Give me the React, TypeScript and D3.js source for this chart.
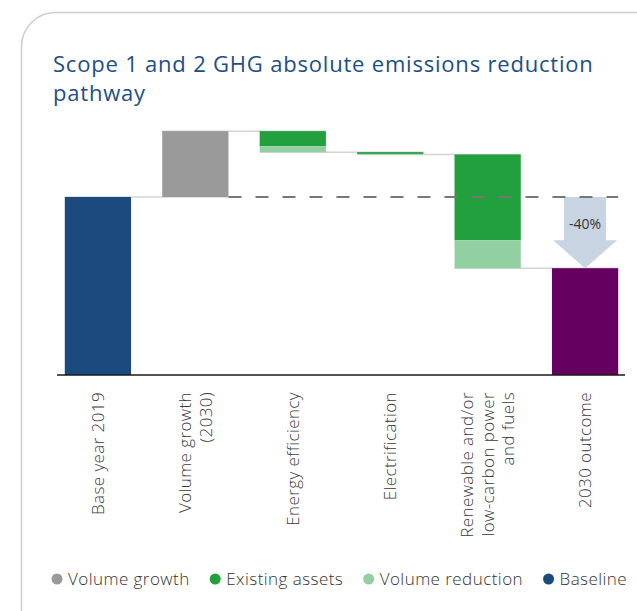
import React, { useEffect, useRef } from 'react';
import * as d3 from 'd3';

// chart data (base year = 100)
const categories = ['Base year 2019', 'Volume growth (2030)', 'Energy efficiency', 'Electrification', 'Renewable and/or low-carbon power and fuels', '2030 outcome'];
const labelLines = [['Base year 2019'], ['Volume growth', '(2030)'], ['Energy efficiency'], ['Electrification'], ['Renewable and/or', 'low-carbon power', 'and fuels'], ['2030 outcome']];
const baselineValues = [100, 0, 0, 0, 0, 0];
const volumeGrowth = [0, 37, 0, 0, 0, 0];
const existingAssets = [0, 0, -8.5, -1.0, -48.2, 0];
const volumeReduction = [0, 0, -3.3, -0.3, -15.7, 0];
const outcomeValues = [0, 0, 0, 0, 0, 60];
const reductionLabel = '-40%';
const legendItems = ['Volume growth', 'Existing assets', 'Volume reduction', 'Baseline'];

const colors = {
  'Volume growth': '#999a99',
  'Existing assets': '#21a03d',
  'Volume reduction': '#93d0a1',
  'Baseline': '#1b4a7e',
  outcome: '#650060',
};

const W = 637;
const H = 611;
const FONT = '"Open Sans", "DejaVu Sans", sans-serif';

export default function App() {
  const ref = useRef(null);

  useEffect(() => {
    const svg = d3.select(ref.current);
    svg.selectAll('*').remove();

    // card outline
    svg.append('rect')
      .attr('x', 21.5).attr('y', 12.5)
      .attr('width', 800).attr('height', 800)
      .attr('rx', 34)
      .attr('fill', 'white')
      .attr('stroke', '#cdcdcd')
      .attr('stroke-width', 1.5);

    // title
    const title = svg.append('text')
      .attr('font-family', FONT)
      .attr('font-size', 22)
      .attr('letter-spacing', 0.8)
      .attr('fill', '#1d4e89');
    title.append('tspan').attr('x', 53).attr('y', 72).text('Scope 1 and 2 GHG absolute emissions reduction');
    title.append('tspan').attr('x', 53).attr('y', 101).text('pathway');

    const x = d3.scaleBand().domain(categories).range([57, 626]).paddingInner(0.32).paddingOuter(0.08);
    const y = d3.scaleLinear().domain([0, 100]).range([375, 197]);
    const bw = x.bandwidth();

    // waterfall segments
    const segs = [];
    const totals = [];
    let run = 0;
    categories.forEach((c, i) => {
      if (baselineValues[i]) {
        segs.push({ c, y0: 0, y1: baselineValues[i], color: colors['Baseline'] });
        run = baselineValues[i];
      }
      if (volumeGrowth[i]) {
        segs.push({ c, y0: run, y1: run + volumeGrowth[i], color: colors['Volume growth'] });
        run += volumeGrowth[i];
      }
      if (existingAssets[i]) {
        segs.push({ c, y0: run + existingAssets[i], y1: run, color: colors['Existing assets'] });
        run += existingAssets[i];
      }
      if (volumeReduction[i]) {
        segs.push({ c, y0: run + volumeReduction[i], y1: run, color: colors['Volume reduction'] });
        run += volumeReduction[i];
      }
      if (outcomeValues[i]) {
        segs.push({ c, y0: 0, y1: outcomeValues[i], color: colors.outcome });
        run = outcomeValues[i];
      }
      totals.push(run);
    });

    // connectors
    svg.append('g').selectAll('line')
      .data(totals.slice(0, -1))
      .join('line')
      .attr('x1', (d, i) => x(categories[i]))
      .attr('x2', (d, i) => x(categories[i + 1]) + bw)
      .attr('y1', d => y(d))
      .attr('y2', d => y(d))
      .attr('stroke', '#d4d4d4')
      .attr('stroke-width', 1.5);

    svg.append('g').selectAll('rect')
      .data(segs)
      .join('rect')
      .attr('x', d => x(d.c))
      .attr('width', bw)
      .attr('y', d => y(d.y1))
      .attr('height', d => y(d.y0) - y(d.y1))
      .attr('fill', d => d.color);

    // reduction arrow
    const last = categories[categories.length - 1];
    const cx = x(last) + bw / 2;
    const top = y(baselineValues[0]);
    const tip = y(outcomeValues[outcomeValues.length - 1]);
    const headH = 28;
    svg.append('path')
      .attr('d', d3.line()([
        [cx - 21, top], [cx + 21, top], [cx + 21, tip - headH], [cx + 32, tip - headH],
        [cx, tip], [cx - 32, tip - headH], [cx - 21, tip - headH],
      ]) + 'Z')
      .attr('fill', '#c8d4e2');
    svg.append('text')
      .attr('x', cx).attr('y', 229)
      .attr('text-anchor', 'middle')
      .attr('font-family', FONT)
      .attr('font-size', 14)
      .attr('fill', '#333')
      .text(reductionLabel);

    // baseline dashed reference
    svg.append('line')
      .attr('x1', x(categories[1]) + bw)
      .attr('x2', x(last) + bw)
      .attr('y1', y(baselineValues[0]))
      .attr('y2', y(baselineValues[0]))
      .attr('stroke', '#777')
      .attr('stroke-width', 2)
      .attr('stroke-dasharray', '13 14');

    // axis line
    svg.append('line')
      .attr('x1', 57).attr('x2', 625)
      .attr('y1', y(0)).attr('y2', y(0))
      .attr('stroke', '#1a1a1a')
      .attr('stroke-width', 1.6);

    // rotated category labels
    const lab = svg.append('g')
      .attr('font-family', FONT)
      .attr('font-size', 17)
      .attr('font-weight', 300)
      .attr('letter-spacing', 0.4)
      .attr('fill', '#3a3a3a');
    labelLines.forEach((lines, i) => {
      const c = x(categories[i]) + bw / 2;
      lines.forEach((t, j) => {
        const off = (j - (lines.length - 1) / 2) * 20.5;
        lab.append('text')
          .attr('transform', `translate(${c + off},392) rotate(-90)`)
          .attr('text-anchor', 'end')
          .attr('dy', '0.35em')
          .text(t);
      });
    });

    // legend
    const leg = svg.append('g')
      .attr('font-family', FONT)
      .attr('font-size', 17)
      .attr('font-weight', 300)
      .attr('letter-spacing', 0.45)
      .attr('fill', '#333');
    let lx = 57;
    legendItems.forEach(name => {
      leg.append('circle').attr('cx', lx).attr('cy', 579).attr('r', 5.5).attr('fill', colors[name]);
      const t = leg.append('text').attr('x', lx + 11).attr('y', 579).attr('dy', '0.35em').text(name);
      const w = t.node().getComputedTextLength();
      lx = lx + 11 + w + 20 + 5.5;
    });
  }, []);

  return (
    <svg ref={ref} width={W} height={H} style={{ position: 'absolute', left: 0, top: 0, background: 'white' }} />
  );
}
